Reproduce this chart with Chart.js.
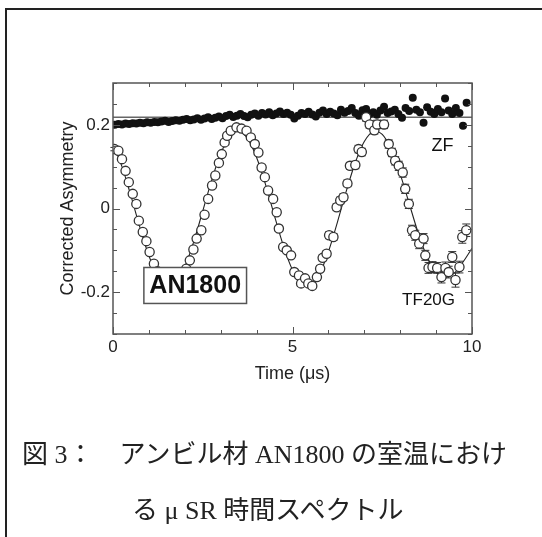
<!DOCTYPE html>
<html>
<head>
<meta charset="utf-8">
<script src="https://cdn.jsdelivr.net/npm/chart.js@4.4.1/dist/chart.umd.min.js"></script>
<style>
  html, body { margin: 0; padding: 0; background: #fff; overflow: hidden; }
  #page { position: relative; width: 542px; height: 537px; }
  #frame { position: absolute; left: 5px; top: 8px; width: 600px; height: 600px; border-left: 2px solid #222; border-top: 2px solid #222; }
  canvas { position: absolute; left: 0; top: 0; }
  .caption { position: absolute; font-family: "Liberation Serif", "Noto Sans CJK JP", serif; font-size: 26px; line-height: 30px; color: #222; white-space: pre; }
</style>
</head>
<body>
<div id="page">
  <div id="frame"></div>
  <canvas id="grafico" width="542" height="537"></canvas>
  <div class="caption" style="left:22px; top:440px;">図 3：　アンビル材 AN1800 の室温におけ</div>
  <div class="caption" style="left:132px; top:496px;">る μ SR 時間スペクトル</div>
</div>
<script>
// eixos
const xMin = 0, xMax = 10;
const yMin = -0.3, yMax = 0.3;
const xTickLabels = [0, 5, 10];
const yTickLabels = [-0.2, 0, 0.2];

// ZF (pontos cheios)
const zfTime = [0.05, 0.15, 0.25, 0.35, 0.45, 0.55, 0.65, 0.75, 0.85, 0.95,
  1.05, 1.15, 1.25, 1.35, 1.45, 1.55, 1.65, 1.75, 1.85, 1.95,
  2.05, 2.15, 2.25, 2.35, 2.45, 2.55, 2.65, 2.75, 2.85, 2.95,
  3.05, 3.15, 3.25, 3.35, 3.45, 3.55, 3.65, 3.75, 3.85, 3.95,
  4.05, 4.15, 4.25, 4.35, 4.45, 4.55, 4.65, 4.75, 4.85, 4.95,
  5.05, 5.15, 5.25, 5.35, 5.45, 5.55, 5.65, 5.75, 5.85, 5.95,
  6.05, 6.15, 6.25, 6.35, 6.45, 6.55, 6.65, 6.75, 6.85, 6.95,
  7.05, 7.15, 7.25, 7.35, 7.45, 7.55, 7.65, 7.75, 7.85, 7.95,
  8.05, 8.15, 8.25, 8.35, 8.45, 8.55, 8.65, 8.75, 8.85, 8.95,
  9.05, 9.15, 9.25, 9.35, 9.45, 9.55, 9.65, 9.75, 9.85];
const zfValue = [0.200, 0.202, 0.201, 0.203, 0.202, 0.204, 0.203, 0.205, 0.204, 0.206,
  0.205, 0.207, 0.206, 0.208, 0.210, 0.207, 0.209, 0.211, 0.210, 0.212,
  0.214, 0.211, 0.213, 0.216, 0.212, 0.215, 0.218, 0.214, 0.217, 0.220,
  0.216, 0.221, 0.224, 0.219, 0.222, 0.226, 0.221, 0.218, 0.224, 0.227,
  0.222, 0.228, 0.225, 0.230, 0.223, 0.227, 0.232, 0.226, 0.229, 0.224,
  0.215, 0.222, 0.228, 0.226, 0.231, 0.225, 0.220, 0.229, 0.234, 0.226,
  0.231, 0.227, 0.223, 0.236, 0.229, 0.233, 0.240, 0.228, 0.222, 0.235,
  0.238, 0.226, 0.230, 0.224, 0.234, 0.243, 0.228, 0.232, 0.236, 0.226,
  0.217, 0.240, 0.233, 0.265, 0.236, 0.230, 0.205, 0.242, 0.231, 0.226,
  0.238, 0.230, 0.263, 0.234, 0.226, 0.240, 0.228, 0.198, 0.253];
const zfFitTime = [0, 10];
const zfFitValue = [0.218, 0.218];

// TF20G (pontos abertos)
const tfTime = [0.04, 0.15, 0.25, 0.35, 0.44, 0.55, 0.65, 0.72, 0.83, 0.93,
  1.02, 1.14, 1.24, 1.35, 1.45, 1.55, 1.65, 1.75, 1.85, 1.95,
  2.04, 2.14, 2.24, 2.33, 2.46, 2.55, 2.65, 2.76, 2.85, 2.95,
  3.03, 3.11, 3.18, 3.28, 3.44, 3.58, 3.72, 3.84, 3.95, 4.05,
  4.14, 4.23, 4.32, 4.46, 4.56, 4.62, 4.74, 4.84, 4.96, 5.05,
  5.18, 5.24, 5.35, 5.44, 5.55, 5.68, 5.77, 5.84, 5.95, 6.02,
  6.14, 6.23, 6.33, 6.42, 6.53, 6.60, 6.75, 6.84, 6.93, 7.05,
  7.15, 7.28, 7.36, 7.55, 7.68, 7.77, 7.86, 7.96, 8.07, 8.14,
  8.24, 8.33, 8.42, 8.53, 8.65, 8.70, 8.79, 8.90, 9.03, 9.15,
  9.26, 9.35, 9.45, 9.54, 9.65, 9.73, 9.84];
const tfValue = [0.142, 0.138, 0.118, 0.090, 0.063, 0.035, 0.011, -0.029, -0.056, -0.078,
  -0.104, -0.132, -0.150, -0.163, -0.172, -0.178, -0.180, -0.174, -0.166, -0.155,
  -0.144, -0.124, -0.098, -0.072, -0.052, -0.015, 0.023, 0.055, 0.079, 0.109,
  0.130, 0.158, 0.174, 0.186, 0.194, 0.191, 0.186, 0.170, 0.154, 0.134,
  0.098, 0.075, 0.043, 0.023, -0.009, -0.048, -0.092, -0.100, -0.112, -0.152,
  -0.160, -0.179, -0.167, -0.179, -0.185, -0.164, -0.144, -0.118, -0.108, -0.064,
  -0.068, 0.003, 0.019, 0.027, 0.060, 0.102, 0.104, 0.142, 0.135, 0.218,
  0.201, 0.187, 0.201, 0.201, 0.154, 0.134, 0.114, 0.102, 0.086, 0.047,
  0.011, -0.052, -0.064, -0.084, -0.072, -0.112, -0.142, -0.140, -0.142, -0.164,
  -0.142, -0.152, -0.116, -0.171, -0.140, -0.068, -0.052];
const tfError = [0.004, 0.004, 0.004, 0.004, 0.004, 0.004, 0.004, 0.004, 0.004, 0.004,
  0.004, 0.004, 0.004, 0.004, 0.004, 0.004, 0.004, 0.004, 0.004, 0.004,
  0.005, 0.005, 0.005, 0.005, 0.005, 0.005, 0.005, 0.005, 0.005, 0.005,
  0.005, 0.005, 0.005, 0.005, 0.005, 0.005, 0.005, 0.005, 0.005, 0.005,
  0.006, 0.006, 0.006, 0.006, 0.006, 0.006, 0.006, 0.006, 0.006, 0.006,
  0.007, 0.007, 0.007, 0.007, 0.007, 0.007, 0.007, 0.007, 0.007, 0.008,
  0.008, 0.008, 0.008, 0.008, 0.008, 0.008, 0.009, 0.009, 0.009, 0.009,
  0.009, 0.009, 0.010, 0.010, 0.010, 0.010, 0.010, 0.011, 0.011, 0.011,
  0.011, 0.012, 0.012, 0.012, 0.012, 0.012, 0.013, 0.013, 0.013, 0.014,
  0.014, 0.014, 0.013, 0.017, 0.014, 0.015, 0.015];
const tfFitTime = [0, 0.25, 0.5, 0.75, 1, 1.25, 1.5, 1.75, 2, 2.25, 2.5, 2.75, 3, 3.25, 3.5, 3.75,
  4, 4.25, 4.5, 4.75, 5, 5.25, 5.5, 5.75, 6, 6.25, 6.5, 6.75, 7, 7.25, 7.5, 7.75,
  8, 8.25, 8.5, 8.75, 9, 9.25, 9.5, 9.75, 10];
const tfFitValue = [0.154, 0.100, 0.030, -0.045, -0.113, -0.161, -0.184, -0.176, -0.139, -0.079,
  -0.006, 0.068, 0.131, 0.172, 0.185, 0.167, 0.122, 0.057, -0.018, -0.090,
  -0.147, -0.179, -0.183, -0.156, -0.103, -0.033, 0.042, 0.110, 0.160, 0.184,
  0.177, 0.141, 0.082, 0.012, -0.058, -0.116, -0.152, -0.164, -0.155, -0.128, -0.095];

const pares = (xs, ys) => xs.map((x, i) => ({ x: x, y: ys[i] }));

// moldura e ticks para dentro nos 4 lados
const molduraPlugin = {
    id: 'moldura',
    afterDraw(chart) {
        const { ctx, chartArea: a, scales: { x, y } } = chart;
        ctx.save();
        ctx.strokeStyle = '#555';
        ctx.lineWidth = 1.5;
        ctx.strokeRect(a.left, a.top, a.right - a.left, a.bottom - a.top);
        ctx.lineWidth = 1;
        ctx.beginPath();
        for (let v = xMin; v <= xMax + 1e-9; v += 1) {
            const px = Math.round(x.getPixelForValue(v)) + 0.5;
            const len = xTickLabels.includes(v) ? 7 : 4;
            ctx.moveTo(px, a.bottom); ctx.lineTo(px, a.bottom - len);
            ctx.moveTo(px, a.top); ctx.lineTo(px, a.top + len);
        }
        for (let i = -6; i <= 6; i++) {
            const v = i * 0.05;
            const py = Math.round(y.getPixelForValue(v)) + 0.5;
            const len = yTickLabels.some(t => Math.abs(t - v) < 1e-9) ? 7 : 4;
            ctx.moveTo(a.left, py); ctx.lineTo(a.left + len, py);
            ctx.moveTo(a.right, py); ctx.lineTo(a.right - len, py);
        }
        ctx.stroke();
        ctx.restore();
    }
};

// barras de erro do TF20G
const errosPlugin = {
    id: 'erros',
    beforeDatasetsDraw(chart) {
        const { ctx, scales: { x, y } } = chart;
        ctx.save();
        ctx.strokeStyle = '#333';
        ctx.lineWidth = 1;
        ctx.beginPath();
        tfTime.forEach((t, i) => {
            const px = x.getPixelForValue(t);
            const y1 = y.getPixelForValue(tfValue[i] + tfError[i]);
            const y2 = y.getPixelForValue(tfValue[i] - tfError[i]);
            ctx.moveTo(px, y1); ctx.lineTo(px, y2);
            ctx.moveTo(px - 4, y1); ctx.lineTo(px + 4, y1);
            ctx.moveTo(px - 4, y2); ctx.lineTo(px + 4, y2);
        });
        ctx.stroke();
        ctx.restore();
    }
};

// rótulos dentro do gráfico
const rotulosPlugin = {
    id: 'rotulos',
    afterDatasetsDraw(chart) {
        const { ctx, scales: { x, y } } = chart;
        ctx.save();
        const bx1 = x.getPixelForValue(0.86), bx2 = x.getPixelForValue(3.72);
        const by1 = y.getPixelForValue(-0.141), by2 = y.getPixelForValue(-0.227);
        ctx.fillStyle = '#fff';
        ctx.fillRect(bx1, by1, bx2 - bx1, by2 - by1);
        ctx.strokeStyle = '#555';
        ctx.lineWidth = 1.5;
        ctx.strokeRect(bx1, by1, bx2 - bx1, by2 - by1);
        ctx.fillStyle = '#111';
        ctx.textAlign = 'center';
        ctx.textBaseline = 'middle';
        ctx.font = 'bold 25px "Liberation Sans", Arial, sans-serif';
        ctx.fillText('AN1800', (bx1 + bx2) / 2, (by1 + by2) / 2 + 1);
        ctx.font = '18px "Liberation Sans", Arial, sans-serif';
        ctx.fillText('ZF', x.getPixelForValue(9.18), y.getPixelForValue(0.15));
        ctx.font = '17px "Liberation Sans", Arial, sans-serif';
        ctx.fillText('TF20G', x.getPixelForValue(8.79), y.getPixelForValue(-0.219));
        ctx.restore();
    }
};

const fonteEixo = { family: '"Liberation Sans", Arial, sans-serif', size: 17 };
const fonteTitulo = { family: '"Liberation Sans", Arial, sans-serif', size: 18 };

new Chart(document.getElementById('grafico'), {
    type: 'scatter',
    data: {
        datasets: [
            { label: 'TF20G', data: pares(tfTime, tfValue), order: 0,
              pointRadius: 4.6, pointBackgroundColor: '#fff', pointBorderColor: '#333', pointBorderWidth: 1.3, showLine: false },
            { label: 'ZF', data: pares(zfTime, zfValue), order: 1,
              pointRadius: 4, pointBackgroundColor: '#111', pointBorderColor: '#111', pointBorderWidth: 0, showLine: false },
            { label: 'TF fit', data: pares(tfFitTime, tfFitValue), order: 2, type: 'line',
              borderColor: '#222', borderWidth: 1.1, pointRadius: 0, tension: 0.35, fill: false },
            { label: 'ZF fit', data: pares(zfFitTime, zfFitValue), order: 3, type: 'line',
              borderColor: '#666', borderWidth: 1.5, pointRadius: 0, fill: false }
        ]
    },
    options: {
        responsive: false,
        animation: false,
        layout: { padding: { left: 0, right: 70, top: 83, bottom: 148 } },
        plugins: { legend: { display: false }, tooltip: { enabled: false } },
        scales: {
            x: {
                type: 'linear', min: xMin, max: xMax,
                afterFit: s => { s.height = 55; },
                afterBuildTicks: s => { s.ticks = xTickLabels.map(v => ({ value: v })); },
                grid: { display: false, drawTicks: false },
                border: { display: false },
                ticks: { padding: 3, color: '#222', font: fonteEixo, callback: v => String(v) },
                title: { display: true, text: 'Time (μs)', color: '#222', font: fonteTitulo, padding: { top: 4, bottom: 4 } }
            },
            y: {
                type: 'linear', min: yMin, max: yMax,
                afterFit: s => { s.width = 113; },
                afterBuildTicks: s => { s.ticks = yTickLabels.map(v => ({ value: v })); },
                grid: { display: false, drawTicks: false },
                border: { display: false },
                ticks: { padding: 3, color: '#222', font: fonteEixo, callback: v => String(v) },
                title: { display: true, text: 'Corrected Asymmetry', color: '#222', font: fonteTitulo, padding: { top: 57, bottom: 0 } }
            }
        }
    },
    plugins: [molduraPlugin, errosPlugin, rotulosPlugin]
});
</script>
</body>
</html>
